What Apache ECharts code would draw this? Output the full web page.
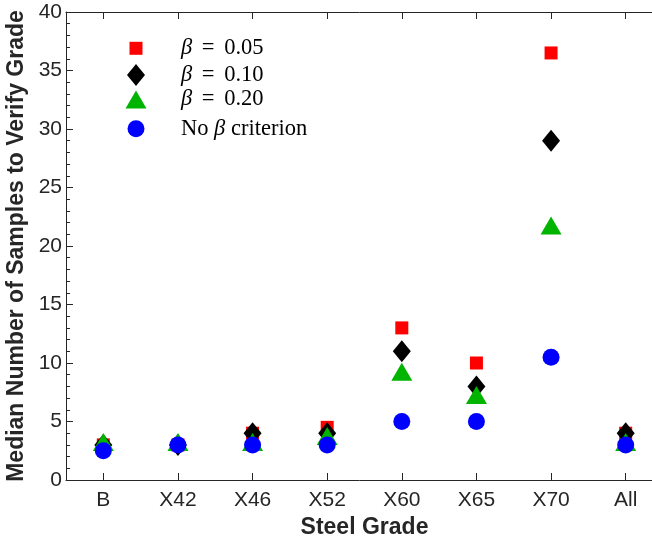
<!DOCTYPE html>
<html>
<head>
<meta charset="utf-8">
<script src="https://cdn.jsdelivr.net/npm/echarts@6/dist/echarts.min.js"></script>
<style>
  html, body { margin: 0; padding: 0; background: #ffffff; }
  #chart { width: 652px; height: 541px; }
</style>
</head>
<body>
<div id="chart"></div>
<script>
const categories = ['B', 'X42', 'X46', 'X52', 'X60', 'X65', 'X70', 'All'];
const seriesNames = ['β = 0.05', 'β = 0.10', 'β = 0.20', 'No β criterion'];
const beta005 = [3, 3, 4, 4.5, 13, 10, 36.5, 4];
const beta010 = [3, 3, 4, 4, 11, 8, 29, 4];
const beta020 = [3, 3, 3, 3.5, 9, 7, 21.5, 3];
const noBeta = [2.5, 3, 3, 3, 5, 5, 10.5, 3];
const yMin = 0, yMax = 40, yStep = 5;

const axisColor = '#262626';
const sansFont = 'Liberation Sans';
const serifFont = 'Liberation Serif';
const legendFontSize = 22.5;

const markers = [
  { name: seriesNames[0], data: beta005, symbol: 'rect', size: [13, 13], color: '#ff0000', offset: [0, 0], cy: 48.3 },
  { name: seriesNames[1], data: beta010, symbol: 'diamond', size: [18, 22], color: '#000000', offset: [0, 0], cy: 75 },
  { name: seriesNames[2], data: beta020, symbol: 'triangle', size: [21, 18], color: '#00b400', offset: [0, -3], cy: 99.5 },
  { name: seriesNames[3], data: noBeta, symbol: 'circle', size: [17, 17], color: '#0000ff', offset: [0, 0], cy: 128.7 }
];

const legendCx = 136;
const legendTextX = 181;
const legendTextH = 24;

function legendLabel(name) {
  if (name.indexOf('No') === 0) {
    return 'No {i|β} criterion';
  }
  const v = name.split('=')[1].trim();
  return '{i|β} {e|=} ' + v;
}

const legends = markers.map(m => {
  const left = legendCx - m.size[0] / 2;
  const pad = legendTextX - (left + m.size[0] + 5);
  return {
    show: true,
    orient: 'vertical',
    padding: 0,
    selectedMode: false,
    data: [{ name: m.name, icon: m.symbol }],
    itemWidth: m.size[0],
    itemHeight: m.size[1],
    left: left,
    top: m.cy - Math.max(m.size[1], legendTextH) / 2,
    formatter: legendLabel,
    textStyle: {
      fontFamily: serifFont,
      fontSize: legendFontSize,
      lineHeight: legendTextH,
      color: '#000000',
      padding: [0, 0, 0, pad],
      rich: {
        i: { fontFamily: serifFont, fontStyle: 'italic', fontSize: legendFontSize, lineHeight: legendTextH, color: '#000000' },
        e: { fontFamily: serifFont, fontSize: legendFontSize, lineHeight: legendTextH, color: '#000000', padding: [0, 4, 0, 4] }
      }
    }
  };
});

const series = markers.map(m => ({
  name: m.name,
  type: 'scatter',
  xAxisIndex: 0,
  yAxisIndex: 0,
  symbol: m.symbol,
  symbolSize: m.size,
  symbolOffset: m.offset,
  itemStyle: { color: m.color, opacity: 1 },
  emphasis: { disabled: true },
  data: m.data
}));

const chart = echarts.init(document.getElementById('chart'), null, { renderer: 'canvas' });
chart.setOption({
  animation: false,
  backgroundColor: '#ffffff',
  grid: { left: 66, top: 12, width: 597, height: 468, containLabel: false, outerBoundsMode: 'none' },
  legend: legends,
  xAxis: [
    {
      type: 'category',
      data: categories,
      boundaryGap: true,
      position: 'bottom',
      name: 'Steel Grade',
      nameLocation: 'middle',
      nameGap: 33,
      nameTextStyle: { fontFamily: sansFont, fontWeight: 'bold', fontSize: 23, color: axisColor },
      axisLine: { show: true, onZero: false, lineStyle: { color: axisColor, width: 1 } },
      axisTick: { show: true, inside: true, alignWithLabel: true, length: 7, lineStyle: { color: axisColor, width: 1 } },
      axisLabel: { show: true, margin: 10, fontFamily: sansFont, fontSize: 21, color: axisColor, interval: 0 },
      splitLine: { show: false }
    },
    {
      type: 'category',
      data: categories,
      boundaryGap: true,
      position: 'top',
      axisLine: { show: true, onZero: false, lineStyle: { color: axisColor, width: 1 } },
      axisTick: { show: true, inside: true, alignWithLabel: true, length: 7, lineStyle: { color: axisColor, width: 1 } },
      axisLabel: { show: false },
      splitLine: { show: false }
    }
  ],
  yAxis: [
    {
      type: 'value',
      min: yMin,
      max: yMax,
      interval: yStep,
      position: 'left',
      name: 'Median Number of Samples to Verify Grade',
      nameLocation: 'middle',
      nameGap: 38,
      nameTextStyle: { fontFamily: sansFont, fontWeight: 'bold', fontSize: 23, color: axisColor },
      axisLine: { show: true, onZero: false, lineStyle: { color: axisColor, width: 1 } },
      axisTick: { show: true, inside: true, length: 7, lineStyle: { color: axisColor, width: 1 } },
      minorTick: { show: true, splitNumber: 5, length: 4, lineStyle: { color: axisColor, width: 1 } },
      axisLabel: { show: true, margin: 4, fontFamily: sansFont, fontSize: 21, color: axisColor },
      splitLine: { show: false },
      minorSplitLine: { show: false }
    }
  ],
  series: series
});
</script>
</body>
</html>
